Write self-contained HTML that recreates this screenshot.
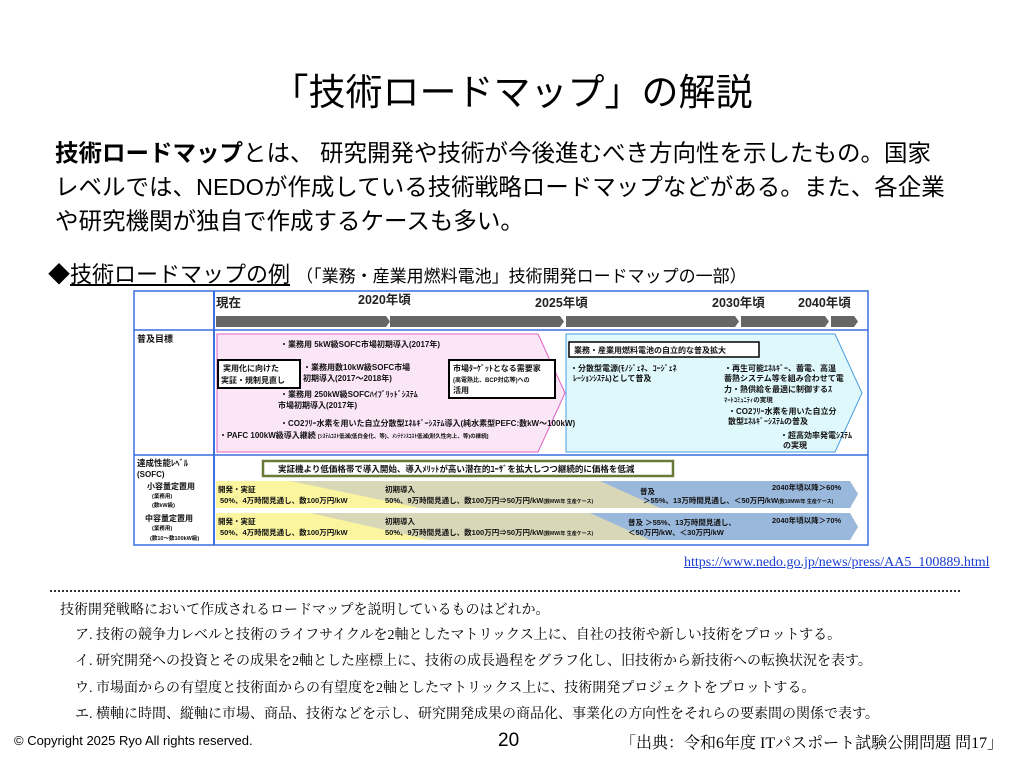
<!DOCTYPE html>
<html><head><meta charset="utf-8"><style>
body{margin:0;width:1024px;height:768px;background:#fff;position:relative;overflow:hidden;font-family:"Liberation Sans","Noto Sans CJK JP",sans-serif;color:#000}
.a{position:absolute;white-space:nowrap}
.q{font-family:"Liberation Serif","Noto Serif CJK SC",serif;font-size:14px}
</style></head><body>
<div class="a" style="left:0;width:1024px;text-align:center;top:62px;font-size:37px">「技術ロードマップ」の解説</div>
<div class="a" style="left:55px;top:136px;font-size:23.5px;line-height:34px">
<b>技術ロードマップ</b>とは、 研究開発や技術が今後進むべき方向性を示したもの。国家<br>
レベルでは、NEDOが作成している技術戦略ロードマップなどがある。また、各企業<br>
や研究機関が独自で作成するケースも多い。</div>
<div class="a" style="left:48px;top:257px;font-size:22px">◆<span style="text-decoration:underline">技術ロードマップの例</span> <span style="font-size:17px">（「業務・産業用燃料電池」技術開発ロードマップの一部）</span></div>

<svg class="a" style="left:0;top:0" width="1024" height="580" font-family="Liberation Sans,Noto Sans CJK JP,sans-serif" font-weight="bold">
<rect x="134" y="291" width="734" height="254" fill="#fff" stroke="#3b6fe0" stroke-width="1.5"/>
<line x1="214" y1="291" x2="214" y2="545" stroke="#3b6fe0" stroke-width="2"/>
<line x1="134" y1="330" x2="868" y2="330" stroke="#3b6fe0" stroke-width="1.5"/>
<line x1="134" y1="455" x2="868" y2="455" stroke="#3b6fe0" stroke-width="1.5"/>
<g fill="#666">
<polygon points="216,316 386,316 390,321.5 386,327 216,327"/>
<polygon points="390,316 560,316 564,321.5 560,327 390,327"/>
<polygon points="566,316 735,316 739,321.5 735,327 566,327"/>
<polygon points="741,316 825,316 829,321.5 825,327 741,327"/>
<polygon points="831,316 854,316 858,321.5 854,327 831,327"/>
</g>
<g font-size="12.5" fill="#222">
<text x="216" y="307">現在</text><text x="358" y="304">2020年頃</text>
<text x="535" y="307">2025年頃</text><text x="712" y="307">2030年頃</text><text x="798" y="307">2040年頃</text>
</g>
<polygon points="217,334 538,334 565,393 538,452 217,452" fill="#fbe6f8" stroke="#e060c0" stroke-width="1"/>
<polygon points="566,334 835,334 862,393 835,452 566,452" fill="#dff8fc" stroke="#4a9ee0" stroke-width="1"/>
<g font-size="8" fill="#111">
<text x="137" y="342" font-size="9">普及目標</text>
<text x="280" y="347">・業務用 5kW級SOFC市場初期導入(2017年)</text>
<rect x="218" y="360" width="82" height="28" fill="#fff" stroke="#000" stroke-width="2"/>
<text x="223" y="371">実用化に向けた</text><text x="221" y="383">実証・規制見直し</text>
<text x="303" y="370">・業務用数10kW級SOFC市場</text><text x="303" y="381">初期導入(2017～2018年)</text>
<text x="280" y="397">・業務用 250kW級SOFCﾊｲﾌﾞﾘｯﾄﾞｼｽﾃﾑ</text><text x="278" y="408">市場初期導入(2017年)</text>
<rect x="449" y="360" width="106" height="38" fill="#fff" stroke="#000" stroke-width="2"/>
<text x="453" y="371">市場ﾀｰｹﾞｯﾄとなる需要家</text><text x="453" y="382" font-size="6">(高電熱比、BCP対応等)への</text><text x="453" y="393">活用</text>
<text x="280" y="426">・CO2ﾌﾘｰ水素を用いた自立分散型ｴﾈﾙｷﾞｰｼｽﾃﾑ導入(純水素型PEFC:数kW～100kW)</text>
<text x="219" y="438">・PAFC 100kW級導入継続 <tspan font-size="5.5">[ｼｽﾃﾑｺｽﾄ低減(低白金化、等)、ﾒﾝﾃﾅﾝｽｺｽﾄ低減(耐久性向上、等)の継続]</tspan></text>
<rect x="569" y="342" width="190" height="15" fill="#fff" stroke="#000" stroke-width="1.5"/>
<text x="574" y="353">業務・産業用燃料電池の自立的な普及拡大</text>
<text x="570" y="371">・分散型電源(ﾓﾉｼﾞｪﾈ、ｺｰｼﾞｪﾈ</text><text x="573" y="381">ﾚｰｼｮﾝｼｽﾃﾑ)として普及</text>
<text x="724" y="371">・再生可能ｴﾈﾙｷﾞｰ、蓄電、高温</text><text x="724" y="381">蓄熱システム等を組み合わせて電</text>
<text x="724" y="392">力・熱供給を最適に制御するｽ</text><text x="724" y="402" font-size="6.5">ﾏｰﾄｺﾐｭﾆﾃｨの実現</text>
<text x="728" y="414">・CO2ﾌﾘｰ水素を用いた自立分</text><text x="728" y="424">散型ｴﾈﾙｷﾞｰｼｽﾃﾑの普及</text>
<text x="780" y="438">・超高効率発電ｼｽﾃﾑ</text><text x="783" y="448">の実現</text>
<text x="137" y="466" font-size="8.5">達成性能ﾚﾍﾞﾙ</text><text x="137" y="477">(SOFC)</text>
<text x="147" y="489">小容量定置用</text><text x="152" y="498" font-size="5.5">(業務用)</text><text x="152" y="507" font-size="5.5">(数kW級)</text>
<text x="145" y="521">中容量定置用</text><text x="152" y="530" font-size="5.5">(業務用)</text><text x="150" y="540" font-size="5.5">(数10～数100kW級)</text>
</g>
<rect x="263" y="461" width="410" height="15" fill="#fff" stroke="#6a7a3a" stroke-width="2.5"/>
<text x="278" y="472" font-size="8.5" fill="#111">実証機より低価格帯で導入開始、導入ﾒﾘｯﾄが高い潜在的ﾕｰｻﾞを拡大しつつ継続的に価格を低減</text>
<g>
<polygon points="216,481 850,481 858,494 850,508 216,508" fill="#d8d8b8"/>
<polygon points="216,481 290,481 420,508 216,508" fill="#fbf5a0"/>
<polygon points="600,481 850,481 858,494 850,508 660,508" fill="#9ab8dc"/>
<polygon points="216,513 850,513 858,527 850,540 216,540" fill="#d8d8b8"/>
<polygon points="216,513 310,513 430,540 216,540" fill="#fbf5a0"/>
<polygon points="590,513 850,513 858,527 850,540 650,540" fill="#9ab8dc"/>
</g>
<g font-size="7.5" fill="#111">
<text x="218" y="492">開発・実証</text><text x="220" y="503">50%、4万時間見通し、数100万円/kW</text>
<text x="385" y="492">初期導入</text><text x="385" y="503">50%、9万時間見通し、数100万円⇒50万円/kW<tspan font-size="5">(数MW/年 生産ケース)</tspan></text>
<text x="640" y="494">普及</text><text x="643" y="503">＞55%、13万時間見通し、＜50万円/kW<tspan font-size="5">(数10MW/年 生産ケース)</tspan></text>
<text x="772" y="490">2040年頃以降＞60%</text>
<text x="218" y="524">開発・実証</text><text x="220" y="535">50%、4万時間見通し、数100万円/kW</text>
<text x="385" y="524">初期導入</text><text x="385" y="535">50%、9万時間見通し、数100万円⇒50万円/kW<tspan font-size="5">(数MW/年 生産ケース)</tspan></text>
<text x="628" y="525">普及 ＞55%、13万時間見通し、</text><text x="628" y="535">＜50万円/kW、＜30万円/kW</text>
<text x="772" y="523">2040年頃以降＞70%</text>
</g>
</svg>
<div class="a" style="left:684px;top:555px;font-family:'Liberation Serif',serif;font-size:14px;color:#1a3fd0;text-decoration:underline">https://www.nedo.go.jp/news/press/AA5_100889.html</div>
<div class="a" style="left:50px;top:590px;width:910px;border-top:2px dotted #333"></div>
<div class="a q" style="left:60px;top:599px">技術開発戦略において作成されるロードマップを説明しているものはどれか。</div>
<div class="a q" style="left:75px;top:624px">ア. 技術の競争力レベルと技術のライフサイクルを2軸としたマトリックス上に、自社の技術や新しい技術をプロットする。</div>
<div class="a q" style="left:75px;top:650px">イ. 研究開発への投資とその成果を2軸とした座標上に、技術の成長過程をグラフ化し、旧技術から新技術への転換状況を表す。</div>
<div class="a q" style="left:75px;top:677px">ウ. 市場面からの有望度と技術面からの有望度を2軸としたマトリックス上に、技術開発プロジェクトをプロットする。</div>
<div class="a q" style="left:75px;top:703px">エ. 横軸に時間、縦軸に市場、商品、技術などを示し、研究開発成果の商品化、事業化の方向性をそれらの要素間の関係で表す。</div>
<div class="a" style="left:14px;top:733px;font-size:13px">© Copyright 2025 Ryo All rights reserved.</div>
<div class="a" style="left:498px;top:730px;font-size:19px">20</div>
<div class="a q" style="left:620px;top:730px;font-size:16px">「出典：令和6年度 ITパスポート試験公開問題 問17」</div>
</body></html>
